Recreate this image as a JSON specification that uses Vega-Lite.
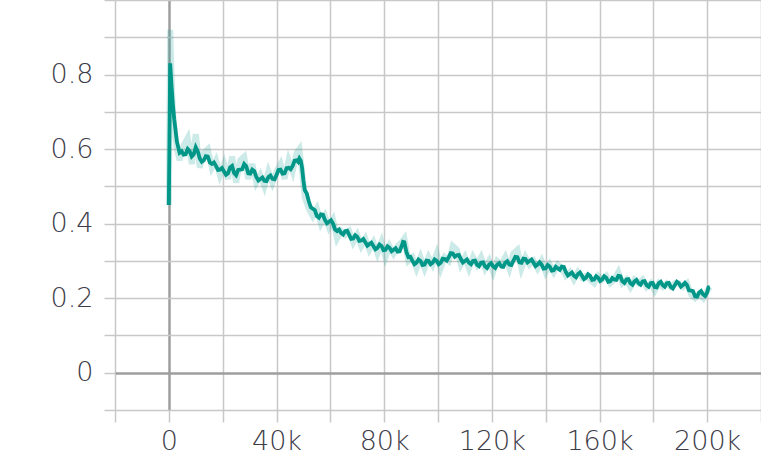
{
  "$schema": "https://vega.github.io/schema/vega-lite/v6.json",
  "width": 646,
  "height": 410,
  "autosize": {"type": "none"},
  "padding": {"left": 115, "top": 0, "right": 0, "bottom": 51},
  "background": "white",
  "config": {
    "view": {"stroke": null},
    "axis": {
      "labelFont": "DejaVu Sans",
      "labelFontWeight": 200,
      "labelFontSize": 27,
      "labelColor": "#3c3c48",
      "domain": false,
      "gridColor": {"condition": {"test": "datum.value === 0", "value": "#9e9e9e"}, "value": "#c8c8c8"},
      "gridWidth": {"condition": {"test": "datum.value === 0", "value": 2.5}, "value": 1.5},
      "gridOpacity": 1,
      "tickColor": "#c8c8c8",
      "tickWidth": 1.5,
      "title": null,
      "labelOverlap": false,
      "labelFlush": false
    }
  },
  "data": {
    "values": [
      {"step": 0, "smooth": 0.45, "raw": 0.45},
      {"step": 500, "smooth": 0.83, "raw": 0.92},
      {"step": 1000, "smooth": 0.77, "raw": 0.8},
      {"step": 1500, "smooth": 0.72, "raw": 0.7},
      {"step": 2000, "smooth": 0.68, "raw": 0.66},
      {"step": 3000, "smooth": 0.62, "raw": 0.6},
      {"step": 4000, "smooth": 0.59, "raw": 0.57},
      {"step": 5500, "smooth": 0.585, "raw": 0.61},
      {"step": 7000, "smooth": 0.6, "raw": 0.63},
      {"step": 8500, "smooth": 0.58, "raw": 0.56},
      {"step": 10000, "smooth": 0.605, "raw": 0.64},
      {"step": 11500, "smooth": 0.575, "raw": 0.55},
      {"step": 13000, "smooth": 0.57, "raw": 0.59},
      {"step": 14500, "smooth": 0.58, "raw": 0.6},
      {"step": 16000, "smooth": 0.56, "raw": 0.55},
      {"step": 17500, "smooth": 0.555, "raw": 0.57},
      {"step": 19000, "smooth": 0.545, "raw": 0.53},
      {"step": 20500, "smooth": 0.54, "raw": 0.56},
      {"step": 22000, "smooth": 0.535, "raw": 0.52},
      {"step": 23500, "smooth": 0.555, "raw": 0.58},
      {"step": 25000, "smooth": 0.53, "raw": 0.51},
      {"step": 26500, "smooth": 0.545, "raw": 0.57},
      {"step": 28000, "smooth": 0.56, "raw": 0.58},
      {"step": 29500, "smooth": 0.535, "raw": 0.52},
      {"step": 31000, "smooth": 0.545, "raw": 0.56},
      {"step": 32500, "smooth": 0.525, "raw": 0.51},
      {"step": 34000, "smooth": 0.52, "raw": 0.53},
      {"step": 35500, "smooth": 0.515, "raw": 0.5},
      {"step": 37000, "smooth": 0.525, "raw": 0.54},
      {"step": 38500, "smooth": 0.52, "raw": 0.51},
      {"step": 40000, "smooth": 0.53, "raw": 0.54},
      {"step": 41500, "smooth": 0.545, "raw": 0.56},
      {"step": 43000, "smooth": 0.535, "raw": 0.52},
      {"step": 44500, "smooth": 0.55, "raw": 0.57},
      {"step": 46000, "smooth": 0.555, "raw": 0.54},
      {"step": 47500, "smooth": 0.57, "raw": 0.59},
      {"step": 48500, "smooth": 0.575, "raw": 0.6},
      {"step": 49500, "smooth": 0.55, "raw": 0.54},
      {"step": 50500, "smooth": 0.49, "raw": 0.47},
      {"step": 52000, "smooth": 0.46, "raw": 0.44},
      {"step": 53500, "smooth": 0.44, "raw": 0.42},
      {"step": 55000, "smooth": 0.42, "raw": 0.44},
      {"step": 56500, "smooth": 0.425, "raw": 0.4},
      {"step": 58000, "smooth": 0.41, "raw": 0.42},
      {"step": 59500, "smooth": 0.405, "raw": 0.39},
      {"step": 61000, "smooth": 0.4, "raw": 0.41},
      {"step": 62500, "smooth": 0.38, "raw": 0.36},
      {"step": 64000, "smooth": 0.375, "raw": 0.38},
      {"step": 65500, "smooth": 0.38, "raw": 0.37},
      {"step": 67000, "smooth": 0.37, "raw": 0.38},
      {"step": 68500, "smooth": 0.36, "raw": 0.35},
      {"step": 70000, "smooth": 0.365, "raw": 0.37},
      {"step": 71500, "smooth": 0.355, "raw": 0.34},
      {"step": 73000, "smooth": 0.35, "raw": 0.36},
      {"step": 74500, "smooth": 0.345, "raw": 0.33},
      {"step": 76000, "smooth": 0.34, "raw": 0.35},
      {"step": 77500, "smooth": 0.335, "raw": 0.32},
      {"step": 79000, "smooth": 0.34, "raw": 0.35},
      {"step": 80500, "smooth": 0.33, "raw": 0.31},
      {"step": 82000, "smooth": 0.335, "raw": 0.34},
      {"step": 83500, "smooth": 0.33, "raw": 0.32},
      {"step": 85000, "smooth": 0.325, "raw": 0.34},
      {"step": 86500, "smooth": 0.34, "raw": 0.35},
      {"step": 87500, "smooth": 0.35, "raw": 0.36},
      {"step": 89000, "smooth": 0.31, "raw": 0.3},
      {"step": 90500, "smooth": 0.3, "raw": 0.31},
      {"step": 92000, "smooth": 0.295, "raw": 0.28},
      {"step": 93500, "smooth": 0.3, "raw": 0.31},
      {"step": 95000, "smooth": 0.29, "raw": 0.28},
      {"step": 96500, "smooth": 0.3, "raw": 0.31},
      {"step": 98000, "smooth": 0.295, "raw": 0.29},
      {"step": 99500, "smooth": 0.3, "raw": 0.32},
      {"step": 101000, "smooth": 0.295, "raw": 0.28},
      {"step": 102500, "smooth": 0.305, "raw": 0.31},
      {"step": 104000, "smooth": 0.31, "raw": 0.3},
      {"step": 105500, "smooth": 0.32, "raw": 0.34},
      {"step": 107000, "smooth": 0.315, "raw": 0.33},
      {"step": 108500, "smooth": 0.305, "raw": 0.29},
      {"step": 110000, "smooth": 0.3, "raw": 0.31},
      {"step": 111500, "smooth": 0.295, "raw": 0.28},
      {"step": 113000, "smooth": 0.3, "raw": 0.31},
      {"step": 114500, "smooth": 0.29, "raw": 0.29},
      {"step": 116000, "smooth": 0.295, "raw": 0.31},
      {"step": 117500, "smooth": 0.285, "raw": 0.28},
      {"step": 119000, "smooth": 0.29, "raw": 0.3},
      {"step": 120500, "smooth": 0.285, "raw": 0.27},
      {"step": 122000, "smooth": 0.29, "raw": 0.3},
      {"step": 123500, "smooth": 0.285, "raw": 0.29},
      {"step": 125000, "smooth": 0.295, "raw": 0.31},
      {"step": 126500, "smooth": 0.29, "raw": 0.28},
      {"step": 128000, "smooth": 0.3, "raw": 0.32},
      {"step": 129500, "smooth": 0.31, "raw": 0.33},
      {"step": 131000, "smooth": 0.295, "raw": 0.28},
      {"step": 132500, "smooth": 0.305, "raw": 0.31},
      {"step": 134000, "smooth": 0.3, "raw": 0.29},
      {"step": 135500, "smooth": 0.295, "raw": 0.3},
      {"step": 137000, "smooth": 0.29, "raw": 0.28},
      {"step": 138500, "smooth": 0.29, "raw": 0.3},
      {"step": 140000, "smooth": 0.28, "raw": 0.27},
      {"step": 141500, "smooth": 0.285, "raw": 0.29},
      {"step": 143000, "smooth": 0.275, "raw": 0.27},
      {"step": 144500, "smooth": 0.28, "raw": 0.29},
      {"step": 146000, "smooth": 0.285, "raw": 0.28},
      {"step": 147500, "smooth": 0.27, "raw": 0.26},
      {"step": 149000, "smooth": 0.265, "raw": 0.27},
      {"step": 150500, "smooth": 0.26, "raw": 0.25},
      {"step": 152000, "smooth": 0.265, "raw": 0.27},
      {"step": 153500, "smooth": 0.26, "raw": 0.255},
      {"step": 155000, "smooth": 0.255, "raw": 0.26},
      {"step": 156500, "smooth": 0.26, "raw": 0.25},
      {"step": 158000, "smooth": 0.25, "raw": 0.24},
      {"step": 159500, "smooth": 0.255, "raw": 0.26},
      {"step": 161000, "smooth": 0.25, "raw": 0.25},
      {"step": 162500, "smooth": 0.255, "raw": 0.26},
      {"step": 164000, "smooth": 0.245, "raw": 0.24},
      {"step": 165500, "smooth": 0.25, "raw": 0.25},
      {"step": 167000, "smooth": 0.26, "raw": 0.27},
      {"step": 168500, "smooth": 0.245, "raw": 0.24},
      {"step": 170000, "smooth": 0.25, "raw": 0.25},
      {"step": 171500, "smooth": 0.24, "raw": 0.23},
      {"step": 173000, "smooth": 0.245, "raw": 0.25},
      {"step": 174500, "smooth": 0.24, "raw": 0.24},
      {"step": 176000, "smooth": 0.245, "raw": 0.25},
      {"step": 177500, "smooth": 0.235, "raw": 0.23},
      {"step": 179000, "smooth": 0.24, "raw": 0.24},
      {"step": 180500, "smooth": 0.23, "raw": 0.22},
      {"step": 182000, "smooth": 0.24, "raw": 0.24},
      {"step": 183500, "smooth": 0.235, "raw": 0.23},
      {"step": 185000, "smooth": 0.24, "raw": 0.24},
      {"step": 186500, "smooth": 0.23, "raw": 0.23},
      {"step": 188000, "smooth": 0.235, "raw": 0.24},
      {"step": 189500, "smooth": 0.24, "raw": 0.24},
      {"step": 191000, "smooth": 0.235, "raw": 0.23},
      {"step": 192500, "smooth": 0.235, "raw": 0.24},
      {"step": 194000, "smooth": 0.22, "raw": 0.21},
      {"step": 195500, "smooth": 0.205, "raw": 0.2},
      {"step": 197000, "smooth": 0.215, "raw": 0.21},
      {"step": 198500, "smooth": 0.21, "raw": 0.2},
      {"step": 200000, "smooth": 0.215, "raw": 0.22},
      {"step": 201000, "smooth": 0.23, "raw": 0.23},
      {"step": 4750, "smooth": 0.594, "raw": null},
      {"step": 6250, "smooth": 0.586, "raw": null},
      {"step": 7750, "smooth": 0.594, "raw": null},
      {"step": 9250, "smooth": 0.586, "raw": null},
      {"step": 10750, "smooth": 0.594, "raw": null},
      {"step": 12250, "smooth": 0.566, "raw": null},
      {"step": 13750, "smooth": 0.581, "raw": null},
      {"step": 15250, "smooth": 0.564, "raw": null},
      {"step": 16750, "smooth": 0.564, "raw": null},
      {"step": 18250, "smooth": 0.544, "raw": null},
      {"step": 19750, "smooth": 0.549, "raw": null},
      {"step": 21250, "smooth": 0.531, "raw": null},
      {"step": 22750, "smooth": 0.551, "raw": null},
      {"step": 24250, "smooth": 0.536, "raw": null},
      {"step": 25750, "smooth": 0.544, "raw": null},
      {"step": 27250, "smooth": 0.546, "raw": null},
      {"step": 28750, "smooth": 0.554, "raw": null},
      {"step": 30250, "smooth": 0.534, "raw": null},
      {"step": 31750, "smooth": 0.541, "raw": null},
      {"step": 33250, "smooth": 0.516, "raw": null},
      {"step": 34750, "smooth": 0.524, "raw": null},
      {"step": 36250, "smooth": 0.514, "raw": null},
      {"step": 37750, "smooth": 0.529, "raw": null},
      {"step": 39250, "smooth": 0.519, "raw": null},
      {"step": 40750, "smooth": 0.544, "raw": null},
      {"step": 42250, "smooth": 0.534, "raw": null},
      {"step": 43750, "smooth": 0.549, "raw": null},
      {"step": 45250, "smooth": 0.546, "raw": null},
      {"step": 46750, "smooth": 0.569, "raw": null},
      {"step": 48000, "smooth": 0.566, "raw": null},
      {"step": 49000, "smooth": 0.569, "raw": null},
      {"step": 50000, "smooth": 0.516, "raw": null},
      {"step": 51250, "smooth": 0.481, "raw": null},
      {"step": 52750, "smooth": 0.444, "raw": null},
      {"step": 54250, "smooth": 0.436, "raw": null},
      {"step": 55750, "smooth": 0.416, "raw": null},
      {"step": 57250, "smooth": 0.424, "raw": null},
      {"step": 58750, "smooth": 0.401, "raw": null},
      {"step": 60250, "smooth": 0.409, "raw": null},
      {"step": 61750, "smooth": 0.384, "raw": null},
      {"step": 63250, "smooth": 0.384, "raw": null},
      {"step": 64750, "smooth": 0.371, "raw": null},
      {"step": 66250, "smooth": 0.381, "raw": null},
      {"step": 67750, "smooth": 0.359, "raw": null},
      {"step": 69250, "smooth": 0.369, "raw": null},
      {"step": 70750, "smooth": 0.354, "raw": null},
      {"step": 72250, "smooth": 0.359, "raw": null},
      {"step": 73750, "smooth": 0.341, "raw": null},
      {"step": 75250, "smooth": 0.349, "raw": null},
      {"step": 76750, "smooth": 0.331, "raw": null},
      {"step": 78250, "smooth": 0.344, "raw": null},
      {"step": 79750, "smooth": 0.329, "raw": null},
      {"step": 81250, "smooth": 0.339, "raw": null},
      {"step": 82750, "smooth": 0.326, "raw": null},
      {"step": 84250, "smooth": 0.334, "raw": null},
      {"step": 85750, "smooth": 0.326, "raw": null},
      {"step": 87000, "smooth": 0.351, "raw": null},
      {"step": 88250, "smooth": 0.324, "raw": null},
      {"step": 89750, "smooth": 0.311, "raw": null},
      {"step": 91250, "smooth": 0.291, "raw": null},
      {"step": 92750, "smooth": 0.304, "raw": null},
      {"step": 94250, "smooth": 0.289, "raw": null},
      {"step": 95750, "smooth": 0.301, "raw": null},
      {"step": 97250, "smooth": 0.291, "raw": null},
      {"step": 98750, "smooth": 0.304, "raw": null},
      {"step": 100250, "smooth": 0.291, "raw": null},
      {"step": 101750, "smooth": 0.306, "raw": null},
      {"step": 103250, "smooth": 0.301, "raw": null},
      {"step": 104750, "smooth": 0.321, "raw": null},
      {"step": 106250, "smooth": 0.311, "raw": null},
      {"step": 107750, "smooth": 0.316, "raw": null},
      {"step": 109250, "smooth": 0.296, "raw": null},
      {"step": 110750, "smooth": 0.304, "raw": null},
      {"step": 112250, "smooth": 0.291, "raw": null},
      {"step": 113750, "smooth": 0.301, "raw": null},
      {"step": 115250, "smooth": 0.286, "raw": null},
      {"step": 116750, "smooth": 0.296, "raw": null},
      {"step": 118250, "smooth": 0.281, "raw": null},
      {"step": 119750, "smooth": 0.294, "raw": null},
      {"step": 121250, "smooth": 0.281, "raw": null},
      {"step": 122750, "smooth": 0.294, "raw": null},
      {"step": 124250, "smooth": 0.284, "raw": null},
      {"step": 125750, "smooth": 0.299, "raw": null},
      {"step": 127250, "smooth": 0.289, "raw": null},
      {"step": 128750, "smooth": 0.311, "raw": null},
      {"step": 130250, "smooth": 0.296, "raw": null},
      {"step": 131750, "smooth": 0.306, "raw": null},
      {"step": 133250, "smooth": 0.296, "raw": null},
      {"step": 134750, "smooth": 0.304, "raw": null},
      {"step": 136250, "smooth": 0.286, "raw": null},
      {"step": 137750, "smooth": 0.296, "raw": null},
      {"step": 139250, "smooth": 0.279, "raw": null},
      {"step": 140750, "smooth": 0.289, "raw": null},
      {"step": 142250, "smooth": 0.274, "raw": null},
      {"step": 143750, "smooth": 0.284, "raw": null},
      {"step": 145250, "smooth": 0.276, "raw": null},
      {"step": 146750, "smooth": 0.284, "raw": null},
      {"step": 148250, "smooth": 0.261, "raw": null},
      {"step": 149750, "smooth": 0.269, "raw": null},
      {"step": 151250, "smooth": 0.256, "raw": null},
      {"step": 152750, "smooth": 0.269, "raw": null},
      {"step": 154250, "smooth": 0.251, "raw": null},
      {"step": 155750, "smooth": 0.264, "raw": null},
      {"step": 157250, "smooth": 0.249, "raw": null},
      {"step": 158750, "smooth": 0.259, "raw": null},
      {"step": 160250, "smooth": 0.246, "raw": null},
      {"step": 161750, "smooth": 0.259, "raw": null},
      {"step": 163250, "smooth": 0.244, "raw": null},
      {"step": 164750, "smooth": 0.254, "raw": null},
      {"step": 166250, "smooth": 0.249, "raw": null},
      {"step": 167750, "smooth": 0.259, "raw": null},
      {"step": 169250, "smooth": 0.241, "raw": null},
      {"step": 170750, "smooth": 0.251, "raw": null},
      {"step": 172250, "smooth": 0.236, "raw": null},
      {"step": 173750, "smooth": 0.249, "raw": null},
      {"step": 175250, "smooth": 0.236, "raw": null},
      {"step": 176750, "smooth": 0.246, "raw": null},
      {"step": 178250, "smooth": 0.231, "raw": null},
      {"step": 179750, "smooth": 0.241, "raw": null},
      {"step": 181250, "smooth": 0.229, "raw": null},
      {"step": 182750, "smooth": 0.244, "raw": null},
      {"step": 184250, "smooth": 0.231, "raw": null},
      {"step": 185750, "smooth": 0.241, "raw": null},
      {"step": 187250, "smooth": 0.226, "raw": null},
      {"step": 188750, "smooth": 0.244, "raw": null},
      {"step": 190250, "smooth": 0.231, "raw": null},
      {"step": 191750, "smooth": 0.241, "raw": null},
      {"step": 193250, "smooth": 0.221, "raw": null},
      {"step": 194750, "smooth": 0.219, "raw": null},
      {"step": 196250, "smooth": 0.204, "raw": null},
      {"step": 197750, "smooth": 0.219, "raw": null},
      {"step": 199250, "smooth": 0.206, "raw": null},
      {"step": 200500, "smooth": 0.229, "raw": null}
    ]
  },
  "transform": [
    {"fold": ["raw", "smooth"], "as": ["series", "value"]},
    {"filter": "isValid(datum.value)"}
  ],
  "mark": {"type": "line", "color": "#009688", "clip": true},
  "encoding": {
    "x": {
      "field": "step",
      "type": "quantitative",
      "scale": {"domain": [-20000, 220000], "nice": false, "zero": false},
      "axis": {
        "values": [-20000, 0, 20000, 40000, 60000, 80000, 100000, 120000, 140000, 160000, 180000, 200000, 220000],
        "labelExpr": "datum.value === 0 ? '0' : (datum.value > 0 && datum.value < 210000 && datum.value % 40000 === 0 ? (datum.value / 1000) + 'k' : '')",
        "labelPadding": 6,
        "tickSize": 12
      }
    },
    "y": {
      "field": "value",
      "type": "quantitative",
      "scale": {"domain": [-0.1, 1.0], "nice": false, "zero": false},
      "axis": {
        "values": [-0.1, 0, 0.1, 0.2, 0.3, 0.4, 0.5, 0.6, 0.7, 0.8, 0.9, 1.0],
        "labelExpr": "datum.value === 0 ? '0' : (datum.value > 0.05 && datum.value < 0.95 && round(datum.value * 10) % 2 === 0 ? format(datum.value, '.1f') : '')",
        "labelPadding": 11,
        "tickSize": 11
      }
    },
    "detail": {"field": "series", "type": "nominal"},
    "opacity": {
      "field": "series",
      "type": "nominal",
      "scale": {"domain": ["raw", "smooth"], "range": [0.2, 1]},
      "legend": null
    },
    "strokeWidth": {
      "field": "series",
      "type": "nominal",
      "scale": {"domain": ["raw", "smooth"], "range": [6, 3.8]},
      "legend": null
    }
  }
}
